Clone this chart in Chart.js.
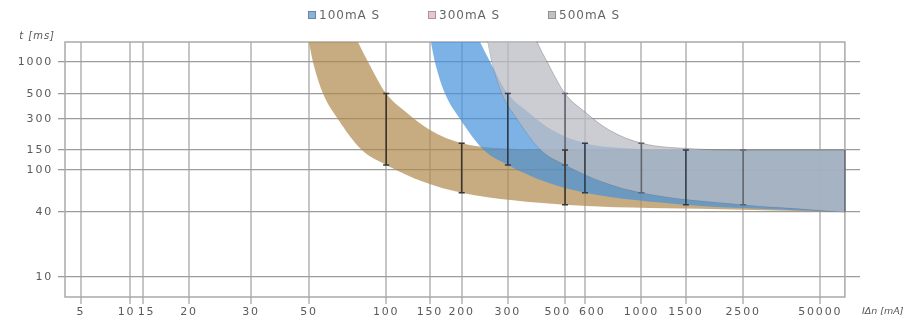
<!DOCTYPE html>
<html>
<head>
<meta charset="utf-8">
<script src="https://cdn.jsdelivr.net/npm/chart.js@4.4.1/dist/chart.umd.min.js"></script>
<style>
  html, body { margin: 0; padding: 0; background: #fff; }
  #wrap { width: 908px; height: 325px; position: relative; }
</style>
</head>
<body>
<div id="wrap"><canvas id="chart"></canvas></div>
<script>
// tick labels
const xTicks = [5, 10, 15, 20, 30, 50, 100, 150, 200, 300, 500, 600, 1000, 1500, 2500, 50000];
const yTicks = [10, 40, 100, 150, 300, 500, 1000];
const seriesNames = ['100mA S', '300mA S', '500mA S'];

// 100mA S band (x in mA, y in ms); first points run above the top edge
const tanUpperX = [49, 71.6, 77.6, 85, 100, 120, 150, 200, 323, 500, 100000];
const tanUpperY = [37000, 2435, 1560, 1000, 505, 346, 235, 175, 154, 150, 150];
const tanLowerX = [49, 50.2, 51.8, 56.7, 64.8, 80.4, 100, 142, 200, 500, 1700, 100000];
const tanLowerY = [2040, 1460, 1000, 505, 300, 150, 111, 77, 61, 47, 43, 40];

// 300mA S band
const blueUpperX = [148.8, 217, 235, 257, 300, 359, 445, 600, 970, 1500, 100000];
const blueUpperY = [37000, 2435, 1560, 1000, 505, 346, 235, 175, 154, 150, 150];
const blueLowerX = [148.8, 152.2, 157, 172, 197, 243, 300, 422, 600, 1500, 4820, 100000];
const blueLowerY = [2040, 1460, 1000, 505, 300, 150, 111, 77, 61, 47, 43, 40];

// 500mA S band
const greyUpperX = [248, 359, 389, 426, 500, 600, 746, 1000, 1628, 2500, 100000];
const greyUpperY = [37000, 2435, 1560, 1000, 505, 346, 235, 175, 154, 150, 150];
const greyLowerX = [248, 253, 261, 285, 326, 403, 500, 707, 1000, 2500, 22750, 100000];
const greyLowerY = [2040, 1460, 1000, 505, 300, 150, 111, 77, 61, 47, 43, 40];

// tripping time bars
const err100X = [100, 200, 500];
const err100Hi = [505, 175, 150];
const err100Lo = [111, 61, 47];
const err300X = [300, 600, 1500];
const err300Hi = [505, 175, 150];
const err300Lo = [111, 61, 47];
const err500X = [500, 1000, 2500];
const err500Hi = [505, 175, 150];
const err500Lo = [111, 61, 47];

// ---- axis layout: where each value sits along the axis (fraction of the plot) ----
const STOPS = {
  x: [[4, 0], [5, 0.020], [10, 0.082], [15, 0.098], [20, 0.156], [30, 0.234], [50, 0.307],
      [100, 0.404], [150, 0.459], [200, 0.499], [300, 0.557], [500, 0.629], [600, 0.654],
      [1000, 0.725], [1500, 0.781], [2500, 0.853], [50000, 0.950], [100000, 0.981], [150000, 1]],
  y: [[6.5, 0], [10, 0.078], [40, 0.333], [100, 0.498], [150, 0.576], [300, 0.698],
      [500, 0.796], [1000, 0.922], [1560, 1]]
};
const TICKS = { x: xTicks, y: yTicks };

function logFrac(stops, v) {
  const lv = Math.log(v);
  let i = 1;
  while (i < stops.length - 1 && lv > Math.log(stops[i][0])) i++;
  const a = stops[i - 1], b = stops[i];
  const t = (lv - Math.log(a[0])) / (Math.log(b[0]) - Math.log(a[0]));
  return a[1] + t * (b[1] - a[1]);
}
function fracLog(stops, f) {
  let i = 1;
  while (i < stops.length - 1 && f > stops[i][1]) i++;
  const a = stops[i - 1], b = stops[i];
  const t = (f - a[1]) / (b[1] - a[1]);
  return Math.exp(Math.log(a[0]) + t * (Math.log(b[0]) - Math.log(a[0])));
}

// scale that follows the hand-drawn spacing of the original axes
class StopScale extends Chart.Scale {
  determineDataLimits() {
    const s = STOPS[this.id];
    this.min = s[0][0];
    this.max = s[s.length - 1][0];
  }
  buildTicks() {
    return TICKS[this.id].map(v => ({ value: v }));
  }
  getLabelForValue(v) { return String(v); }
  getPixelForValue(v) { return this.getPixelForDecimal(logFrac(STOPS[this.id], v)); }
  getValueForPixel(p) { return fracLog(STOPS[this.id], this.getDecimalForPixel(p)); }
  getPixelForTick(i) { return this.getPixelForValue(this.ticks[i].value); }
  getBasePixel() { return this.getPixelForDecimal(0); }
}
StopScale.id = 'stops';
StopScale.defaults = {};
Chart.register(StopScale);

const pts = (xs, ys) => xs.map((x, i) => ({ x: x, y: ys[i] }));

function band(upX, upY, loX, loY, fillColor, lineColor, lineWidth) {
  const common = {
    pointRadius: 0,
    borderWidth: lineWidth,
    borderColor: lineColor,
    cubicInterpolationMode: 'monotone'
  };
  return [
    Object.assign({ data: pts(upX, upY), fill: '+1', backgroundColor: fillColor }, common),
    Object.assign({ data: pts(loX, loY), fill: false }, common)
  ];
}

function errorBars(xs, his, los, color) {
  return xs.map((x, i) => ({
    data: [{ x: x, y: his[i] }, { x: x, y: los[i] }],
    borderColor: color,
    borderWidth: 1.6,
    pointStyle: 'line',
    pointRadius: 3,
    pointBorderColor: color,
    pointBorderWidth: 1.5,
    fill: false
  }));
}

const bandEnd = tanLowerX[tanLowerX.length - 1];

const datasets = [].concat(
  errorBars(err100X, err100Hi, err100Lo, '#3a352e'),
  errorBars(err300X, err300Hi, err300Lo, '#2f3b47'),
  errorBars(err500X, err500Hi, err500Lo, '#5f656b'),
  [{
    data: [{ x: bandEnd, y: greyUpperY[greyUpperY.length - 1] }, { x: bandEnd, y: greyLowerY[greyLowerY.length - 1] }],
    borderColor: '#666b70', borderWidth: 1.5, pointRadius: 0, fill: false
  }],
  band(greyUpperX, greyUpperY, greyLowerX, greyLowerY, 'rgba(186,188,194,0.74)', 'rgba(95,100,105,0.4)', 1),
  band(blueUpperX, blueUpperY, blueLowerX, blueLowerY, 'rgba(70,145,220,0.7)', 'rgba(0,0,0,0)', 0),
  band(tanUpperX, tanUpperY, tanLowerX, tanLowerY, 'rgba(175,135,75,0.7)', 'rgba(0,0,0,0)', 0)
);

const legendColors = ['#8db2db', '#e6c8cb', '#c2c2c4'];
const tickFont = { family: 'DejaVu Sans', size: 11 };
const spacing = '1.8px';

const chrome = {
  id: 'chrome',
  beforeLayout(chart) { chart.ctx.letterSpacing = spacing; },
  beforeDraw(chart) { chart.ctx.letterSpacing = spacing; },
  beforeDatasetsDraw(chart) {
    const { ctx, chartArea } = chart;
    const right = chart.scales.x.getPixelForValue(bandEnd);
    ctx.save();
    ctx.strokeStyle = '#a9a9a9';
    ctx.lineWidth = 1.5;
    ctx.strokeRect(chartArea.left, chartArea.top, right - chartArea.left, chartArea.bottom - chartArea.top);
    ctx.restore();
  },
  afterDraw(chart) {
    const ctx = chart.ctx;
    ctx.save();
    // legend
    ctx.letterSpacing = '1px';
    ctx.font = '12px "DejaVu Sans"';
    ctx.textBaseline = 'middle';
    ctx.textAlign = 'left';
    seriesNames.forEach((name, i) => {
      const bx = 308 + i * 120;
      ctx.fillStyle = legendColors[i];
      ctx.fillRect(bx, 11, 8, 8);
      ctx.strokeStyle = 'rgba(0,0,0,0.25)';
      ctx.lineWidth = 1;
      ctx.strokeRect(bx + 0.5, 11.5, 7, 7);
      ctx.fillStyle = '#666';
      ctx.fillText(name, bx + 11, 15.5);
    });
    // axis titles
    ctx.font = 'italic 10px "DejaVu Sans"';
    ctx.letterSpacing = '1px';
    ctx.textAlign = 'right';
    ctx.fillStyle = '#555';
    ctx.fillText('t [ms]', 55, 36);
    ctx.textAlign = 'left';
    ctx.letterSpacing = '0px';
    ctx.font = 'italic 9.5px "DejaVu Sans"';
    ctx.fillText('IΔn [mA]', 862, 312);
    ctx.restore();
  }
};

// labels that sit too close to a neighbour are pushed apart like in the original
const nudge = { 10: 'left', 15: 'right', 500: 'left', 600: 'right' };
const pad = { 10: '\u2002', 15: '\u2002', 500: '\u2002\u2002', 600: '\u2002\u2002' };

new Chart(document.getElementById('chart'), {
  type: 'line',
  data: { datasets: datasets },
  options: {
    responsive: true,
    maintainAspectRatio: false,
    animation: false,
    events: [],
    layout: { padding: { top: 42, right: 48, left: 0, bottom: 0 } },
    plugins: {
      legend: { display: false },
      tooltip: { enabled: false }
    },
    scales: {
      x: {
        type: 'stops',
        position: 'bottom',
        grid: { color: '#c6c6c6', lineWidth: 2, tickLength: 7 },
        border: { display: false },
        ticks: {
          autoSkip: false,
          maxRotation: 0,
          minRotation: 0,
          padding: 2,
          color: '#5a5a5a',
          font: tickFont,
          callback: v => nudge[v] === 'left' ? v + pad[v] : nudge[v] === 'right' ? pad[v] + v : String(v)
        },
        afterFit: s => { s.height = 28; }
      },
      y: {
        type: 'stops',
        position: 'left',
        grid: { color: '#9c9c9c', lineWidth: 1.3, tickLength: 7 },
        border: { display: false },
        ticks: { autoSkip: false, padding: 5, color: '#5a5a5a', font: tickFont },
        afterFit: s => { s.width = 65; }
      }
    }
  },
  plugins: [chrome]
});
</script>
</body>
</html>
